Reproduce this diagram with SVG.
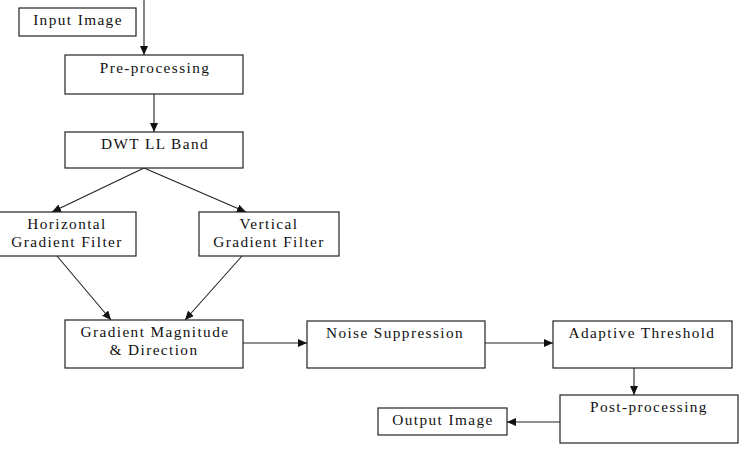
<svg xmlns="http://www.w3.org/2000/svg" width="746" height="450" viewBox="0 0 746 450">
  <style>
    .box { fill: #ffffff; stroke: #222222; stroke-width: 1.2; }
    .lbl { font-family: "Liberation Serif", "DejaVu Serif", "Times New Roman", serif; font-size: 15.3px; letter-spacing: 1.4px; fill: #111111; text-anchor: middle; }
    .edge { stroke: #222222; stroke-width: 1.1; fill: none; marker-end: url(#arrow); }
  </style>
  <defs>
    <marker id="arrow" markerUnits="userSpaceOnUse" markerWidth="9" markerHeight="8" refX="9" refY="4" orient="auto">
      <path d="M0,0 L9,4 L0,8 z" fill="#111111"/>
    </marker>
  </defs>
  <rect width="746" height="450" fill="#ffffff"/>

  <g id="connectors">
    <line class="edge" x1="144" y1="0" x2="144" y2="55"/>
    <line class="edge" x1="154" y1="94" x2="154" y2="132"/>
    <line class="edge" x1="144" y1="168" x2="52" y2="212"/>
    <line class="edge" x1="144" y1="168" x2="246" y2="212"/>
    <line class="edge" x1="57" y1="256" x2="111" y2="320"/>
    <line class="edge" x1="242" y1="256" x2="185" y2="320"/>
    <line class="edge" x1="243" y1="343" x2="307" y2="343"/>
    <line class="edge" x1="485" y1="343" x2="553" y2="343"/>
    <line class="edge" x1="634" y1="368" x2="634" y2="395"/>
    <line class="edge" x1="560" y1="422" x2="507" y2="422"/>
  </g>

  <g id="input-image">
    <rect class="box" x="19" y="8" width="117" height="28"/>
    <text class="lbl" x="78" y="25">Input Image</text>
  </g>
  <g id="pre-processing">
    <rect class="box" x="65" y="55" width="178" height="39"/>
    <text class="lbl" x="155" y="73">Pre-processing</text>
  </g>
  <g id="dwt-ll-band">
    <rect class="box" x="65" y="132" width="178" height="36"/>
    <text class="lbl" x="155" y="149">DWT LL Band</text>
  </g>
  <g id="horizontal-filter">
    <rect class="box" x="-1" y="212" width="137" height="44"/>
    <text class="lbl" x="67" y="229">Horizontal</text>
    <text class="lbl" x="67" y="247">Gradient Filter</text>
  </g>
  <g id="vertical-filter">
    <rect class="box" x="199" y="212" width="140" height="44"/>
    <text class="lbl" x="269" y="229">Vertical</text>
    <text class="lbl" x="269" y="247">Gradient Filter</text>
  </g>
  <g id="gradient-magnitude">
    <rect class="box" x="65" y="320" width="178" height="48"/>
    <text class="lbl" x="155" y="337">Gradient Magnitude</text>
    <text class="lbl" x="154" y="355">&amp; Direction</text>
  </g>
  <g id="noise-suppression">
    <rect class="box" x="307" y="321" width="178" height="47"/>
    <text class="lbl" x="395" y="338">Noise Suppression</text>
  </g>
  <g id="adaptive-threshold">
    <rect class="box" x="553" y="321" width="179" height="47"/>
    <text class="lbl" x="642" y="338">Adaptive Threshold</text>
  </g>
  <g id="post-processing">
    <rect class="box" x="560" y="395" width="178" height="48"/>
    <text class="lbl" x="649" y="412">Post-processing</text>
  </g>
  <g id="output-image">
    <rect class="box" x="378" y="408" width="129" height="27"/>
    <text class="lbl" x="443" y="425">Output Image</text>
  </g>
</svg>
